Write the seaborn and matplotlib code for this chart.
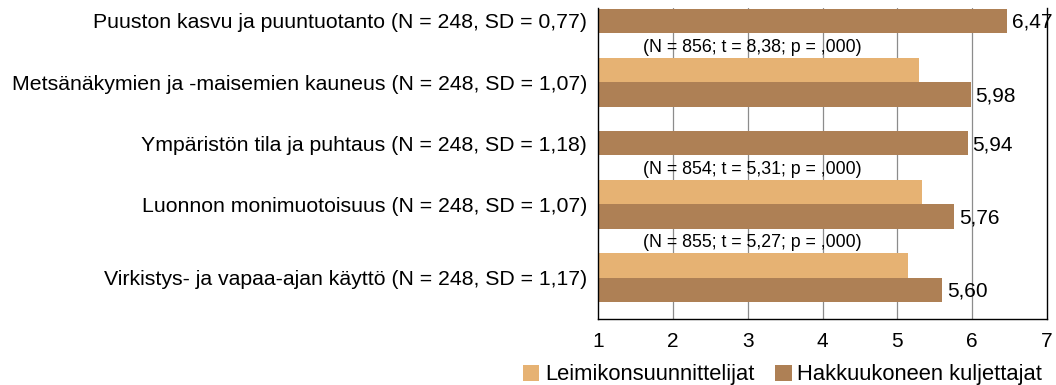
import numpy as np
import pandas as pd
import matplotlib
matplotlib.use("Agg")
import matplotlib.pyplot as plt
import seaborn as sns

# --- data -----------------------------------------------------------------
categories = [
    "Puuston kasvu ja puuntuotanto (N = 248, SD = 0,77)",
    "Metsänäkymien ja -maisemien kauneus (N = 248, SD = 1,07)",
    "Ympäristön tila ja puhtaus (N = 248, SD = 1,18)",
    "Luonnon monimuotoisuus (N = 248, SD = 1,07)",
    "Virkistys- ja vapaa-ajan käyttö (N = 248, SD = 1,17)",
]
groups = ["Leimikonsuunnittelijat", "Hakkuukoneen kuljettajat"]
planners = [np.nan, 5.29, np.nan, 5.33, 5.14]      # Leimikonsuunnittelijat
operators = [6.47, 5.98, 5.94, 5.76, 5.60]         # Hakkuukoneen kuljettajat
test_n = [None, 856, None, 854, 855]
test_t = [None, 8.38, None, 5.31, 5.27]
test_p = [None, 0.000, None, 0.000, 0.000]

# --- layout: row slots for each category's bars ------------------------------
operator_rows = [0, 3, 5, 8, 11]
planner_rows = [None, 2, None, 7, 10]

colors = {groups[0]: "#E6B273", groups[1]: "#AE8055"}

rows = []
for i in range(len(categories)):
    if planner_rows[i] is not None and not np.isnan(planners[i]):
        rows.append({"row": planner_rows[i], "value": planners[i], "group": groups[0]})
    rows.append({"row": operator_rows[i], "value": operators[i], "group": groups[1]})
df = pd.DataFrame(rows)

sns.set_theme(style="white")
plt.rcParams["font.family"] = ["Liberation Sans", "DejaVu Sans"]
plt.rcParams["text.color"] = "black"
plt.rcParams["xtick.color"] = "black"
plt.rcParams["ytick.color"] = "black"
plt.rcParams["xtick.labelcolor"] = "black"
plt.rcParams["ytick.labelcolor"] = "black"

fig = plt.figure(figsize=(10.56, 3.85), dpi=100)
ax = fig.add_axes([0.5663, 0.1714, 0.4252, 0.8078])

# vertical grid behind bars
for gx in range(2, 7):
    ax.axvline(gx, color="#8c8c8c", lw=0.9, zorder=0)

sns.barplot(data=df, x="value", y="row", hue="group", hue_order=groups,
            palette=colors, orient="y", native_scale=True, dodge=False,
            width=1.0, saturation=1, linewidth=0, ax=ax, zorder=2)

handles, labels = ax.get_legend_handles_labels()
if ax.get_legend() is not None:
    ax.get_legend().remove()

ax.set_xlim(1, 7)
ax.set_ylim(12.19, -0.53)
ax.set_xticks(range(1, 8))
ax.set_xticklabels([str(v) for v in range(1, 8)], fontsize=15, color="black")
ax.tick_params(axis="x", direction="out", length=6, width=1, color="black", pad=3)

label_pos = []
for i in range(len(categories)):
    r = [operator_rows[i]]
    if planner_rows[i] is not None:
        r.append(planner_rows[i])
    label_pos.append(np.mean(r))
ax.set_yticks(label_pos)
ax.set_yticklabels(categories, fontsize=15.3, color="black")
ax.tick_params(axis="y", length=0, pad=8)
ax.set_xlabel("")
ax.set_ylabel("")

for side in ["left", "right", "bottom"]:
    ax.spines[side].set_visible(True)
    ax.spines[side].set_color("black")
    ax.spines[side].set_linewidth(1.0)
ax.spines["top"].set_visible(False)


def fi(v, fmt="{:.2f}"):
    return fmt.format(v).replace(".", ",")


# value labels for the operators' bars
for i, v in enumerate(operators):
    ax.annotate(fi(v), (v, operator_rows[i]), xytext=(3.5, -1), textcoords="offset points",
                ha="left", va="center", fontsize=15, color="black", zorder=4,
                annotation_clip=False)

# t-test results above each pair
for i in range(len(categories)):
    if test_n[i] is None:
        continue
    p_txt = fi(test_p[i], "{:.3f}").lstrip("0")
    txt = f"(N = {test_n[i]}; t = {fi(test_t[i])}; p = {p_txt})"
    ax.text(3.06, planner_rows[i] - 0.92, txt, ha="center", va="center",
            fontsize=12.8, color="black", zorder=1)

leg = fig.legend(handles, labels, loc="center", bbox_to_anchor=(0.741, 0.026),
                 ncol=2, frameon=False, fontsize=15.8, handlelength=0.75,
                 handleheight=0.75, handletextpad=0.25, columnspacing=0.95,
                 borderaxespad=0)
for t in leg.get_texts():
    t.set_color("black")

fig.savefig("out.png", dpi=100)
